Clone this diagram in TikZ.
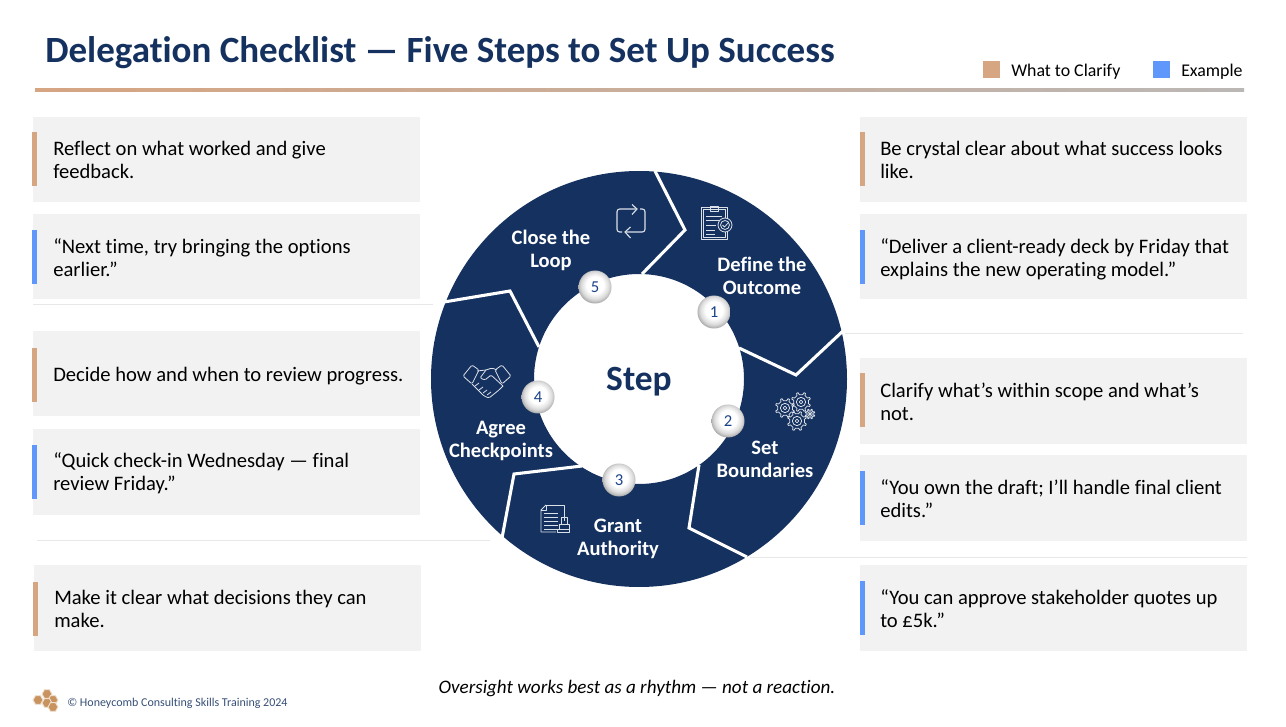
\documentclass[tikz,border=0pt]{standalone}
\usepackage{fontspec}
\setmainfont{Carlito}[Ligatures=NoCommon]
\usepackage{tikz}
\definecolor{navy}{HTML}{14315F}
\definecolor{ballblue}{HTML}{1C4388}
\definecolor{tan}{HTML}{D6A582}
\definecolor{blueish}{HTML}{5F97FB}
\definecolor{panelgrey}{HTML}{F2F2F2}
\definecolor{rulegrey}{HTML}{BBB7B5}
\definecolor{sepgrey}{HTML}{E8E8E8}
\definecolor{hexbrown}{HTML}{C8935F}
\pgfdeclareradialshading{stepball}{\pgfpoint{0bp}{4bp}}{color(0bp)=(white);color(13bp)=(white);color(21bp)=(black!14);color(25bp)=(black!28);color(29bp)=(black!52);color(50bp)=(black!52)}
\tikzset{
  bodytext/.style={anchor=north west, align=left, font=\fontsize{15.45pt}{17.3pt}\selectfont, text=black, inner sep=0pt},
  steptext/.style={align=center, text=white, font=\fontsize{15.4pt}{17.3pt}\selectfont\bfseries, inner sep=0pt},
  ball/.style={circle, shading=stepball, minimum size=33*0.75pt, inner sep=0pt, text=ballblue, font=\fontsize{12.5pt}{13pt}\selectfont},
  divider/.style={white, line width=2.3pt, line join=miter},
  icon/.style={white!85!navy, line width=0.6pt, line join=round},
  sepline/.style={sepgrey, line width=0.6pt},
}
% a gear: x, y, radius, teeth
\newcommand{\gearicon}[4]{%
  \begin{scope}[shift={(#1,#2)}]
    \draw[icon] (0:#3) \foreach \a in {1,...,#4} {
      -- ({360/#4*(\a-0.72)}:#3) -- ({360/#4*(\a-0.6)}:#3*1.3) -- ({360/#4*(\a-0.4)}:#3*1.3) -- ({360/#4*(\a-0.28)}:#3)
      } -- cycle;
    \draw[icon] (0,0) circle ({#3*0.62}) (0,0) circle ({#3*0.25});
  \end{scope}
}
\begin{document}
\begin{tikzpicture}[x=0.75pt, y=-0.75pt]
\useasboundingbox (0,0) rectangle (1286,727);
\fill[white] (0,0) rectangle (1286,727);

% title and legend
\node[anchor=base west, inner sep=0pt, text=navy, font=\fontsize{27.75pt}{30pt}\selectfont\bfseries] (title) at (45,63) {Delegation Checklist — Five Steps to Set Up Success};
\fill[tan] (983,61) rectangle (1000,78);
\node[anchor=base west, inner sep=0pt, font=\fontsize{13.4pt}{14pt}\selectfont] (legend1) at (1011,77) {What to Clarify};
\fill[blueish] (1153,61) rectangle (1170,78);
\node[anchor=base west, inner sep=0pt, font=\fontsize{13.4pt}{14pt}\selectfont] (legend2) at (1181,77) {Example};
\shade[left color=tan, right color=rulegrey] (35,88.5) rectangle (1244,92);

% separators
\draw[sepline] (33,304) -- (433,304);
\draw[sepline] (37,540) -- (490,540);
\draw[sepline] (845,333) -- (1243,333);
\draw[sepline] (750,557) -- (1247,557);

% panels
\foreach \px/\py/\bx/\by/\bcol in {33/117/32/132/tan, 33/214/32/230/blueish, 33/331/32/348/tan, 33/429/32/445/blueish, 34/565/33/582/tan,
  860/117/860/132/tan, 860/214/860/230/blueish, 860/358/860/373/tan, 860/455/860/471/blueish, 860/565/860/581/blueish} {
  \fill[panelgrey] (\px,\py) rectangle ++(387,85.5);
  \fill[\bcol] (\bx,\by) rectangle ++(5,54);
}
\node[bodytext] (t1) at (53,140.5) {Reflect on what worked and give\\feedback.};
\node[bodytext] (t2) at (53,238.5) {“Next time, try bringing the options\\earlier.”};
\node[bodytext] (t3) at (53,366.5) {Decide how and when to review progress.};
\node[bodytext] (t4) at (53,452.5) {“Quick check-in Wednesday — final\\review Friday.”};
\node[bodytext] (t5) at (54,589.5) {Make it clear what decisions they can\\make.};
\node[bodytext] (t6) at (880,140.5) {Be crystal clear about what success looks\\like.};
\node[bodytext] (t7) at (880,238.5) {“Deliver a client-ready deck by Friday that\\explains the new operating model.”};
\node[bodytext] (t8) at (880,382.5) {Clarify what’s within scope and what’s\\not.};
\node[bodytext] (t9) at (880,479.5) {“You own the draft; I’ll handle final client\\edits.”};
\node[bodytext] (t10) at (880,589.5) {“You can approve stakeholder quotes up\\to £5k.”};

% ring
\fill[navy, even odd rule] (639,379) circle (208) (639,379) circle (105);
\draw[divider] (655,171) -- (685,230) -- (642,274);
\draw[divider] (843,331) -- (796,375) -- (739,348);
\draw[divider] (747,557) -- (689,528) -- (699,465);
\draw[divider] (502,538) -- (514,474) -- (582,466);
\draw[divider] (444,302) -- (510,291) -- (539,347);

\node[text=navy, font=\fontsize{26.6pt}{28pt}\selectfont\bfseries] (centre) at (639,381.5) {Step};

\node[steptext] (s1) at (762,276) {Define the\\Outcome};
\node[steptext] (s2) at (765,459.5) {Set\\Boundaries};
\node[steptext] (s3) at (618,539) {Grant\\Authority};
\node[steptext] (s4) at (501,441) {Agree\\Checkpoints};
\node[steptext] (s5) at (551,250) {Close the\\Loop};

\node[ball] (b1) at (714,312) {1};
\node[ball] (b2) at (728,421) {2};
\node[ball] (b3) at (619,480) {3};
\node[ball] (b4) at (538,397) {4};
\node[ball] (b5) at (595,287) {5};

% loop icon
\begin{scope}[icon, line width=0.85pt]
  \draw[rounded corners=2pt] (637,209) -- (617,209) -- (617,232) -- (622,232);
  \draw[rounded corners=2pt] (625,232) -- (645,232) -- (645,209) -- (640,209);
  \draw (632,204.5) -- (637,209) -- (632,214.5);
  \draw (630.5,227) -- (625,232) -- (630.5,238);
\end{scope}

% clipboard icon
\draw[icon] (701,207) rectangle (727,239);
\draw[icon] (703,209) rectangle (725,237);
\draw[icon] (710,206) rectangle (718,211);
\foreach \ly/\lx in {216/722,220/720,225/716,230/715,234/715} {\draw[icon] (706,\ly) -- (\lx,\ly);}
\filldraw[icon, fill=navy] (725,225) circle (7);
\draw[icon] (725,225) circle (4.5);
\draw[icon] (722.5,225) -- (724.5,227) -- (728,223);

% gears icon
\gearicon{785}{408}{7.5}{8}
\gearicon{801}{402}{7.5}{8}
\gearicon{797}{421}{7.5}{8}
\gearicon{810}{414}{3.8}{8}

% document and stamp icon
\draw[icon] (546,505) -- (564,505) -- (564,521);
\draw[icon] (546,505) -- (541,510) -- (541,532) -- (556,532);
\draw[icon] (546,505) -- (546,510) -- (541,510);
\foreach \ly in {513,517,521,525,529} {\draw[icon] (544,\ly) -- (558,\ly);}
\draw[icon] (561,517) rectangle (567,524);
\draw[icon] (559,524) rectangle (569,529);
\draw[icon] (557,529) rectangle (569.5,532.5);

% handshake icon
\draw[icon, rounded corners=1pt] (463,376) -- (472,365) -- (479,370) -- (472,384) -- cycle;
\draw[icon, rounded corners=1pt] (511,376) -- (502,365) -- (495,370) -- (502,384) -- cycle;
\draw[icon, rounded corners=1pt] (477,371) -- (486,370) -- (492,368) -- (497,370);
\draw[icon, rounded corners=1pt] (486,370) -- (480,378) -- (485,380) -- (491,375) -- (503,386);
\draw[icon, rounded corners=1pt] (472,384) -- (484,396) -- (489,398) -- (499,390) -- (503,386);
\foreach \hx/\hy in {477/388,481/392,485/395,489/397} {\draw[icon] (\hx,\hy) ++(-2,-2) -- ++(4,-3);}

% footer
\foreach \hx/\hy in {38/700,47/694,53/700,47/703,53/707} {
  \filldraw[draw=white!70!hexbrown, fill=hexbrown, line width=0.7pt, shift={(\hx,\hy)}]
    (0:5) -- (60:5) -- (120:5) -- (180:5) -- (240:5) -- (300:5) -- cycle;
}
\node[inner sep=0pt, anchor=base, font=\fontsize{14.33pt}{16pt}\selectfont\itshape] (note) at (637,693.5) {Oversight works best as a rhythm — not a reaction.};
\node[inner sep=0pt, anchor=base west, text=navy!85, font=\fontsize{9pt}{10pt}\selectfont] (copy) at (67,706) {© Honeycomb Consulting Skills Training 2024};
\end{tikzpicture}
\end{document}
